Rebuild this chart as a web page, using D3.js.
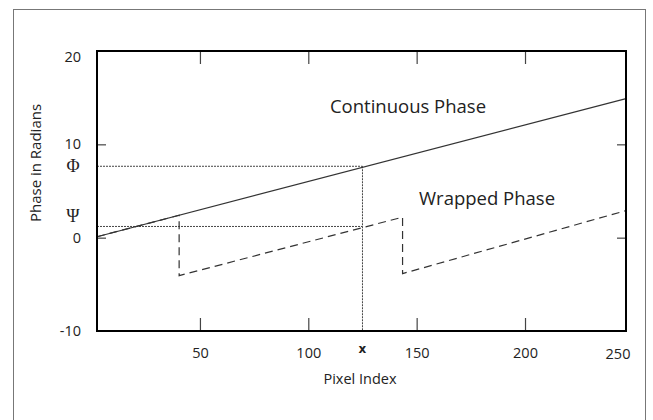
<!DOCTYPE html>
<html>
<head>
<meta charset="utf-8">
<script src="https://cdn.jsdelivr.net/npm/d3@7"></script>
<style>
  html, body { margin: 0; padding: 0; background: #fff; }
  svg { display: block; }
  text { font-family: "Open Sans", "Noto Sans", sans-serif; fill: #222; }
</style>
</head>
<body>
<svg id="chart" width="653" height="420"></svg>
<script>
// ---- data ----
const xDomain = [2.5, 246.6];
const yDomain = [-10, 20];
const xTickValues = [50, 100, 150, 200];
const xEndLabel = "250";
const yTickValues = [20, 10, 0, -10];
const yInnerTicks = [10, 0];

const continuousX = [2.5, 246.6];
const continuousY = [0.1, 14.9];

const wrappedX = [2.5, 40.4, 40.4, 143.5, 143.5, 246.6];
const wrappedY = [0.1, 2.4, -4.07, 2.2, -3.85, 2.9];

const markX = 125;       // "x"
const phiValue = 7.65;   // Φ
const psiValue = 1.2;    // Ψ

const seriesLabels = ["Continuous Phase", "Wrapped Phase"];
const xTitle = "Pixel Index";
const yTitle = "Phase in Radians";

// ---- layout ----
const svg = d3.select("#chart");
const L = 97, R = 626, T = 51, B = 331;

const x = d3.scaleLinear().domain(xDomain).range([L, R]);
const y = d3.scaleLinear().domain(yDomain).range([B, T]);

// outer border
svg.append("rect")
  .attr("x", 13.5).attr("y", 9.5)
  .attr("width", 632).attr("height", 430)
  .attr("fill", "none").attr("stroke", "#777").attr("stroke-width", 1);

// dotted guide lines
const guide = svg.append("g")
  .attr("fill", "none").attr("stroke", "#444")
  .attr("stroke-width", 1).attr("stroke-dasharray", "2,1");
guide.append("line")
  .attr("x1", x(xDomain[0])).attr("x2", x(markX))
  .attr("y1", y(phiValue)).attr("y2", y(phiValue));
guide.append("line")
  .attr("x1", x(xDomain[0])).attr("x2", x(markX))
  .attr("y1", y(psiValue)).attr("y2", y(psiValue));
guide.append("line")
  .attr("x1", x(markX)).attr("x2", x(markX))
  .attr("y1", y(phiValue)).attr("y2", y(yDomain[0]));

// lines
const line = d3.line().x(d => x(d[0])).y(d => y(d[1]));
svg.append("path")
  .datum(continuousX.map((v, i) => [v, continuousY[i]]))
  .attr("d", line)
  .attr("fill", "none").attr("stroke", "#333").attr("stroke-width", 1.2);
svg.append("path")
  .datum(wrappedX.map((v, i) => [v, wrappedY[i]]))
  .attr("d", line)
  .attr("fill", "none").attr("stroke", "#333").attr("stroke-width", 1.2)
  .attr("stroke-dasharray", "8,5");

// axes (ticks inward)
const fmt = d => String(d);
const axB = svg.append("g").attr("transform", `translate(0,${B})`)
  .call(d3.axisBottom(x).tickValues(xTickValues).tickSize(-13).tickPadding(17).tickFormat(fmt));
const axT = svg.append("g").attr("transform", `translate(0,${T})`)
  .call(d3.axisTop(x).tickValues(xTickValues).tickSize(-13).tickFormat(""));
const axL = svg.append("g").attr("transform", `translate(${L},0)`)
  .call(d3.axisLeft(y).tickValues(yTickValues).tickSize(0).tickPadding(16).tickFormat(fmt));
const axLi = svg.append("g").attr("transform", `translate(${L},0)`)
  .call(d3.axisLeft(y).tickValues(yInnerTicks).tickSize(-9).tickFormat(""));
const axR = svg.append("g").attr("transform", `translate(${R},0)`)
  .call(d3.axisRight(y).tickValues(yInnerTicks).tickSize(-9).tickFormat(""));

[axB, axT, axL, axLi, axR].forEach(g => {
  g.select(".domain").remove();
  g.selectAll(".tick line").attr("stroke", "#444").attr("stroke-width", 1.2);
  g.selectAll("text").attr("fill", "#222")
    .style("font-family", '"Open Sans", sans-serif').style("font-size", "14.5px");
});
axL.selectAll(".tick").filter(d => d === yDomain[1]).select("text").attr("dy", "0.75em");

// end label "250"
svg.append("text")
  .attr("x", x(xDomain[1]) - 8).attr("y", B + 28)
  .attr("text-anchor", "middle").style("font-size", "14.5px").attr("fill", "#222")
  .text(xEndLabel);

// frame
svg.append("rect")
  .attr("x", L).attr("y", T).attr("width", R - L).attr("height", B - T)
  .attr("fill", "none").attr("stroke", "#000").attr("stroke-width", 2);

// symbols
svg.append("text").attr("x", 73).attr("y", y(phiValue) + 6)
  .attr("text-anchor", "middle")
  .style("font-family", '"Liberation Serif", "DejaVu Serif", serif').style("font-size", "18px")
  .attr("fill", "#111").text("Φ");
svg.append("text").attr("x", 73).attr("y", y(psiValue) - 4)
  .attr("text-anchor", "middle")
  .style("font-family", '"Liberation Serif", "DejaVu Serif", serif').style("font-size", "18px")
  .attr("fill", "#111").text("Ψ");
svg.append("text").attr("x", x(markX)).attr("y", B + 22)
  .attr("text-anchor", "middle")
  .style("font-family", '"DejaVu Sans", sans-serif').style("font-size", "12px")
  .style("font-weight", "bold").attr("fill", "#222").text("x");

// series labels
svg.append("text").attr("x", 408).attr("y", 113)
  .attr("text-anchor", "middle").style("font-size", "18.5px").attr("fill", "#111")
  .text(seriesLabels[0]);
svg.append("text").attr("x", 487).attr("y", 205)
  .attr("text-anchor", "middle").style("font-size", "18.5px").attr("fill", "#111")
  .text(seriesLabels[1]);

// axis titles
svg.append("text").attr("x", 360).attr("y", 384)
  .attr("text-anchor", "middle").style("font-size", "14.5px").attr("fill", "#333")
  .text(xTitle);
svg.append("text")
  .attr("transform", "translate(41,163) rotate(-90)")
  .attr("text-anchor", "middle").style("font-size", "15px").attr("fill", "#333")
  .text(yTitle);
</script>
</body>
</html>
